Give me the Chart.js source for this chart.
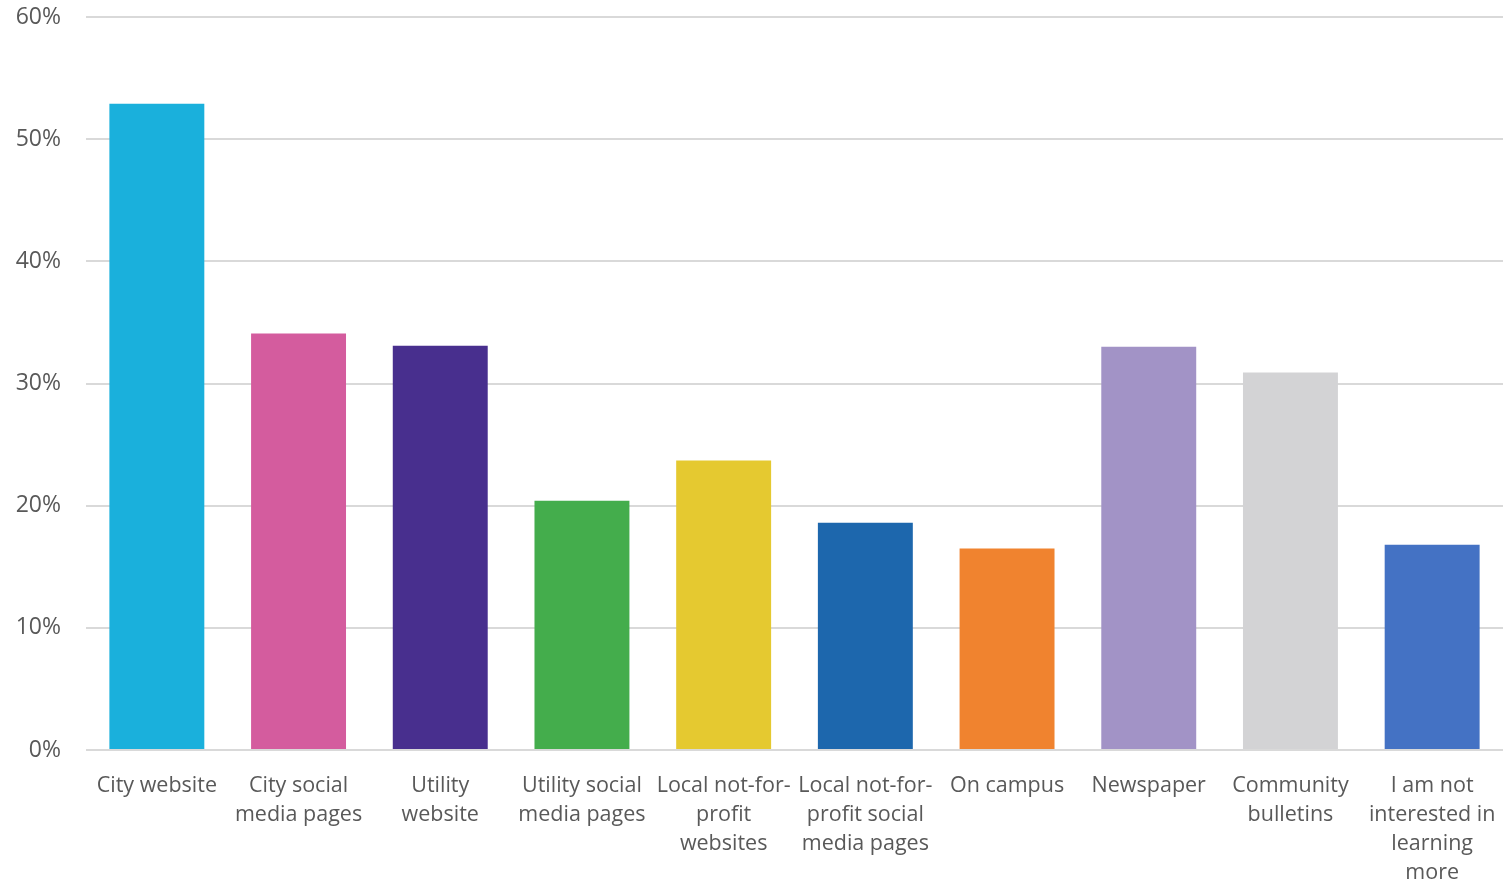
<!DOCTYPE html>
<html>
<head>
<meta charset="utf-8">
<script src="https://cdn.jsdelivr.net/npm/chart.js@4/dist/chart.umd.min.js"></script>
<style>
html,body{margin:0;padding:0;background:#fff;}
#wrap{width:1511px;height:882px;position:relative;}
</style>
</head>
<body>
<div id="wrap"><canvas id="c"></canvas></div>
<script>
const categories = [
  "City website",
  ["City social", "media pages"],
  ["Utility", "website"],
  ["Utility social", "media pages"],
  ["Local not-for-", "profit", "websites"],
  ["Local not-for-", "profit social", "media pages"],
  "On campus",
  "Newspaper",
  ["Community", "bulletins"],
  ["I am not", "interested in", "learning", "more"]
];
const values = [52.9, 34.1, 33.1, 20.4, 23.7, 18.6, 16.5, 33.0, 30.9, 16.8];
const barColors = ["#1AB0DC", "#D45C9E", "#482F8E", "#44AD4C", "#E5C930", "#1D67AD", "#F0832F", "#A293C6", "#D3D3D5", "#4472C4"];
const yTicks = [0, 10, 20, 30, 40, 50, 60];

Chart.defaults.font.family = "'Open Sans', sans-serif";
new Chart(document.getElementById('c'), {
  type: 'bar',
  data: {
    labels: categories,
    datasets: [{
      data: values,
      backgroundColor: barColors,
      borderWidth: 0,
      categoryPercentage: 0.67,
      barPercentage: 1.0
    }]
  },
  options: {
    responsive: true,
    maintainAspectRatio: false,
    animation: false,
    layout: { padding: { left: 0, right: 8, top: 17, bottom: 0 } },
    plugins: { legend: { display: false }, tooltip: { enabled: false } },
    scales: {
      x: {
        grid: { display: false, drawTicks: false },
        border: { display: false },
        ticks: {
          color: '#595959',
          font: { size: 21.5, lineHeight: 1.35 },
          padding: 21,
          maxRotation: 0,
          autoSkip: false
        },
        afterFit: (s) => { s.height = 132; s.paddingLeft = 0; s.paddingRight = 0; }
      },
      y: {
        min: 0, max: 60,
        afterBuildTicks: (s) => { s.ticks = yTicks.map(v => ({ value: v })); },
        grid: { color: '#D9D9D9', lineWidth: 2, drawTicks: false },
        border: { display: false },
        ticks: {
          color: '#595959',
          font: { size: 23 },
          padding: 25,
          callback: (v) => v + '%'
        },
        afterFit: (s) => { s.width = 86; s.paddingTop = 0; s.paddingBottom = 0; }
      }
    }
  }
});
</script>
</body>
</html>
